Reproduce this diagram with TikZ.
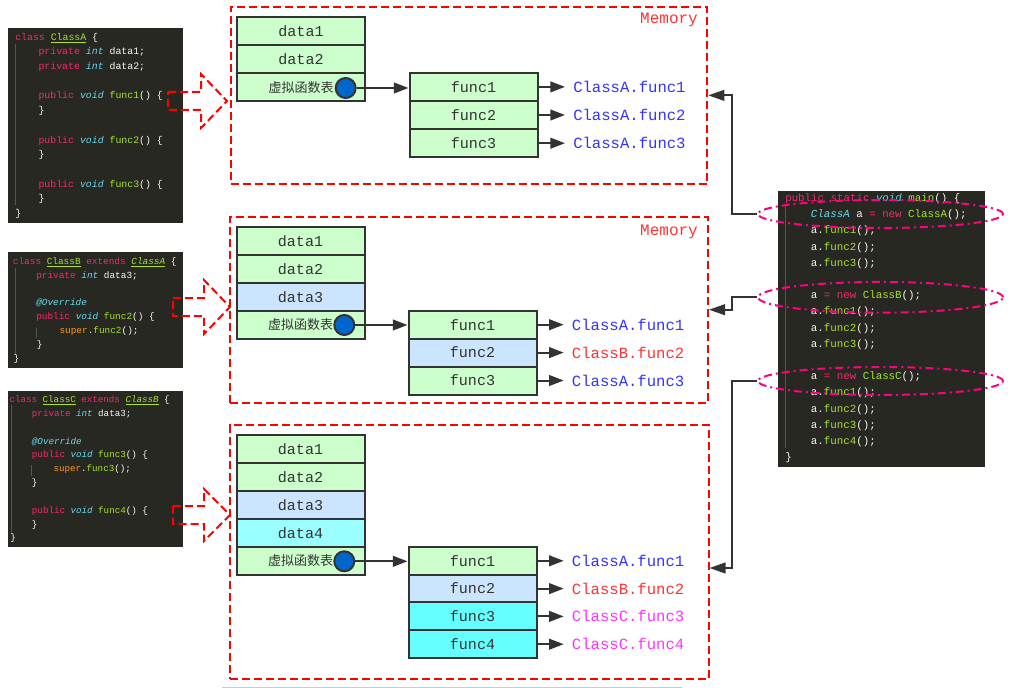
\documentclass[tikz,border=0pt]{standalone}
\usepackage{fontspec}
\setmainfont{Liberation Sans}
\newfontfamily\codefont{Liberation Mono}
\newfontfamily\cjkfont{Noto Sans CJK SC}
\usetikzlibrary{shapes.geometric,arrows.meta}
\definecolor{cgreen}{HTML}{CCFFCC}
\definecolor{cblue}{HTML}{CCE5FF}
\definecolor{ccyanA}{HTML}{99FFFF}
\definecolor{ccyanB}{HTML}{66FFFF}
\definecolor{cborder}{HTML}{333333}
\definecolor{cdot}{HTML}{0066CC}
\definecolor{cred}{HTML}{FF0000}
\definecolor{lblblue}{HTML}{3333FF}
\definecolor{lblred}{HTML}{FF3333}
\definecolor{lblmag}{HTML}{FF33FF}
\definecolor{cpink}{HTML}{FF0080}
\definecolor{mkbg}{HTML}{272822}
\definecolor{mkfg}{HTML}{F8F8F2}
\definecolor{mkpink}{HTML}{F92672}
\definecolor{mkcyan}{HTML}{66D9EF}
\definecolor{mkgreen}{HTML}{A6E22E}
\definecolor{mkorange}{HTML}{FD971F}
\definecolor{mkguide}{HTML}{55564F}
\newcommand{\jkw}[1]{\textcolor{mkpink}{#1}}
\newcommand{\jty}[1]{\textcolor{mkcyan}{\itshape #1}}
\newcommand{\jfn}[1]{\textcolor{mkgreen}{#1}}
\newcommand{\jsu}[1]{\textcolor{mkorange}{#1}}
\newcommand{\jcl}[1]{\textcolor{mkgreen}{\underline{#1}}}
\newcommand{\jcli}[1]{\textcolor{mkgreen}{\underline{\itshape #1}}}
\tikzset{
  cell/.style={draw=cborder, line width=1.5pt, minimum width=96pt, minimum height=21pt,
    inner sep=0pt, text=cborder, font=\codefont\fontsize{11.3}{13}\selectfont},
  gcell/.style={cell, fill=cgreen},
  bcell/.style={cell, fill=cblue},
  dcell/.style={cell, fill=ccyanA},
  ccell/.style={cell, fill=ccyanB},
  vt/.style={font=\cjkfont\fontsize{9.75}{11}\selectfont},
  vdot/.style={circle, draw=cborder, line width=1.5pt, fill=cdot, minimum size=15pt, inner sep=0pt},
  lbl/.style={anchor=west, inner sep=0pt, font=\codefont\fontsize{11.7}{13}\selectfont},
  arr/.style={draw=cborder, line width=1.5pt, -{Triangle[length=11pt, width=8pt]}},
  farr/.style={arr, shorten >=6pt},
  mem/.style={draw=cred, line width=1.5pt, dash pattern=on 6pt off 3pt, inner sep=0pt},
  memlbl/.style={text=lblred, inner sep=0pt, font=\codefont\fontsize{12}{14}\selectfont},
  blk/.style={draw=cred, line width=1.5pt, dash pattern=on 6pt off 3pt},
  panel/.style={fill=mkbg, draw=none, inner sep=0pt},
  guide/.style={draw=mkguide, line width=0.75pt},
  cA/.style={anchor=base west, inner sep=0pt, text=mkfg, font=\codefont\fontsize{7.4}{9}\selectfont},
  cB/.style={cA, font=\codefont\fontsize{7.05}{9}\selectfont},
  cC/.style={cA, font=\codefont\fontsize{6.9}{9}\selectfont},
  cM/.style={cA, font=\codefont\fontsize{8.1}{10}\selectfont},
  oval/.style={ellipse, draw=cpink, line width=1.5pt, dash pattern=on 6pt off 3pt on 1.5pt off 3pt, inner sep=0pt},
  marr/.style={draw=cborder, line width=1.5pt, -{Triangle[length=12pt, width=8pt]}}
}
\begin{document}
\begin{tikzpicture}[x=0.75pt, y=-0.75pt]
\useasboundingbox (0,0) rectangle (1017,688);
\fill[white] (0,0) rectangle (1017,688);

% ---------- code panels ----------
\node[panel, minimum width=131.4pt, minimum height=146.6pt] (pA) at (95.1,125.25) {};
\node[panel, minimum width=130.8pt, minimum height=86.55pt] (pB) at (95.5,310) {};
\node[panel, minimum width=130.8pt, minimum height=117.2pt] (pC) at (95.5,469.15) {};
\node[panel, minimum width=155pt, minimum height=206.8pt] (pM) at (881.65,328.85) {};

\draw[guide] (15,44) -- (15,205);
\draw[guide] (15,268) -- (15,355);
\draw[guide] (36.7,328) -- (36.7,338);
\draw[guide] (11.5,405) -- (11.5,533);
\draw[guide] (31.7,465) -- (31.7,476);
\draw[guide] (785,205) -- (785,448);

% panel A
\node[cA] (a0) at (15,40.2) {\jkw{class} \jcl{ClassA} \{};
\node[cA] (a1) at (38.3,54.9) {\jkw{private} \jty{int} data1;};
\node[cA] (a2) at (38.3,69.6) {\jkw{private} \jty{int} data2;};
\node[cA] (a3) at (38.3,99) {\jkw{public} \jty{void} \jfn{func1}() \{};
\node[cA] (a4) at (38.3,113.7) {\}};
\node[cA] (a5) at (38.3,143.1) {\jkw{public} \jty{void} \jfn{func2}() \{};
\node[cA] (a6) at (38.3,157.8) {\}};
\node[cA] (a7) at (38.3,187.2) {\jkw{public} \jty{void} \jfn{func3}() \{};
\node[cA] (a8) at (38.3,201.9) {\}};
\node[cA] (a9) at (15,216.6) {\}};

% panel B
\node[cB] (b0) at (12.7,264) {\jkw{class} \jcl{ClassB} \jkw{extends} \jcli{ClassA} \{};
\node[cB] (b1) at (36,278) {\jkw{private} \jty{int} data3;};
\node[cB] (b2) at (36,305.9) {\jty{@Override}};
\node[cB] (b3) at (36,319.8) {\jkw{public} \jty{void} \jfn{func2}() \{};
\node[cB] (b4) at (59.3,333.8) {\jsu{super}.\jfn{func2}();};
\node[cB] (b5) at (36.7,347.7) {\}};
\node[cB] (b6) at (13.3,361.7) {\}};

% panel C
\node[cC] (c0) at (9.3,402.5) {\jkw{class} \jcl{ClassC} \jkw{extends} \jcli{ClassB} \{};
\node[cC] (c1) at (31.7,416.3) {\jkw{private} \jty{int} data3;};
\node[cC] (c2) at (31.7,444) {\jty{@Override}};
\node[cC] (c3) at (31.7,457.9) {\jkw{public} \jty{void} \jfn{func3}() \{};
\node[cC] (c4) at (53.3,471.7) {\jsu{super}.\jfn{func3}();};
\node[cC] (c5) at (31.7,485.5) {\}};
\node[cC] (c6) at (31.7,513.2) {\jkw{public} \jty{void} \jfn{func4}() \{};
\node[cC] (c7) at (31.7,527.1) {\}};
\node[cC] (c8) at (10,540.9) {\}};

% main panel
\node[cM] (m0) at (785,201.5) {\jkw{public} \jkw{static} \jty{void} \jfn{main}() \{};
\node[cM] (m1) at (810.7,217.7) {\jty{ClassA} a \jkw{=} \jkw{new} \jfn{ClassA}();};
\node[cM] (m2) at (810.7,233.9) {a.\jfn{func1}();};
\node[cM] (m3) at (810.7,250.1) {a.\jfn{func2}();};
\node[cM] (m4) at (810.7,266.3) {a.\jfn{func3}();};
\node[cM] (m5) at (810.7,298.6) {a \jkw{=} \jkw{new} \jfn{ClassB}();};
\node[cM] (m6) at (810.7,314.8) {a.\jfn{func1}();};
\node[cM] (m7) at (810.7,331) {a.\jfn{func2}();};
\node[cM] (m8) at (810.7,347.2) {a.\jfn{func3}();};
\node[cM] (m9) at (810.7,379.6) {a \jkw{=} \jkw{new} \jfn{ClassC}();};
\node[cM] (m10) at (810.7,395.8) {a.\jfn{func1}();};
\node[cM] (m11) at (810.7,412) {a.\jfn{func2}();};
\node[cM] (m12) at (810.7,428.2) {a.\jfn{func3}();};
\node[cM] (m13) at (810.7,444.4) {a.\jfn{func4}();};
\node[cM] (m14) at (785,460.5) {\}};

% ---------- memory boxes ----------
\node[mem, minimum width=357.45pt, minimum height=133pt] (mem1) at (469,95.35) {};
\node[mem, minimum width=358.5pt, minimum height=139.5pt] (mem2) at (469,309.7) {};
\node[mem, minimum width=359.25pt, minimum height=190.7pt] (mem3) at (469.5,552.2) {};
\node[memlbl] (mt1) at (669,20) {Memory};
\node[memlbl] (mt2) at (669,231.7) {Memory};

% box 1
\node[gcell] (p1d1) at (301,30.9) {data1};
\node[gcell] (p1d2) at (301,59.2) {data2};
\node[gcell, vt] (p1vt) at (301,87.5) {虚拟函数表};
\node[vdot] (p1dot) at (345.7,88) {};
\node[gcell] (p1f1) at (473.5,86.9) {func1};
\node[gcell] (p1f2) at (473.5,115) {func2};
\node[gcell] (p1f3) at (473.5,143.2) {func3};
\node[lbl, text=lblblue] (p1l1) at (573,86.9) {ClassA.func1};
\node[lbl, text=lblblue] (p1l2) at (573,115) {ClassA.func2};
\node[lbl, text=lblblue] (p1l3) at (573,143.2) {ClassA.func3};
\draw[arr] (p1dot.east) -- (p1dot.east -| p1f1.west);
\draw[farr] (p1f1.east) -- (p1l1.west);
\draw[farr] (p1f2.east) -- (p1l2.west);
\draw[farr] (p1f3.east) -- (p1l3.west);

% box 2
\node[gcell] (p2d1) at (300.5,240.9) {data1};
\node[gcell] (p2d2) at (300.5,268.8) {data2};
\node[bcell] (p2d3) at (300.5,296.7) {data3};
\node[gcell, vt] (p2vt) at (300.5,324.6) {虚拟函数表};
\node[vdot] (p2dot) at (344.3,325) {};
\node[gcell] (p2f1) at (472.5,324.7) {func1};
\node[bcell] (p2f2) at (472.5,352.6) {func2};
\node[gcell] (p2f3) at (472.5,380.5) {func3};
\node[lbl, text=lblblue] (p2l1) at (571.7,324.7) {ClassA.func1};
\node[lbl, text=lblred] (p2l2) at (571.7,352.6) {ClassB.func2};
\node[lbl, text=lblblue] (p2l3) at (571.7,380.5) {ClassA.func3};
\draw[arr] (p2dot.east) -- (p2dot.east -| p2f1.west);
\draw[farr] (p2f1.east) -- (p2l1.west);
\draw[farr] (p2f2.east) -- (p2l2.west);
\draw[farr] (p2f3.east) -- (p2l3.west);

% box 3
\node[gcell] (p3d1) at (300.5,448.9) {data1};
\node[gcell] (p3d2) at (300.5,476.8) {data2};
\node[bcell] (p3d3) at (300.5,504.8) {data3};
\node[dcell] (p3d4) at (300.5,532.8) {data4};
\node[gcell, vt] (p3vt) at (300.5,560.8) {虚拟函数表};
\node[vdot] (p3dot) at (344.3,561.3) {};
\node[gcell] (p3f1) at (472.5,560.8) {func1};
\node[bcell] (p3f2) at (472.5,588.6) {func2};
\node[ccell] (p3f3) at (472.5,616.4) {func3};
\node[ccell] (p3f4) at (472.5,644.2) {func4};
\node[lbl, text=lblblue] (p3l1) at (571.7,560.8) {ClassA.func1};
\node[lbl, text=lblred] (p3l2) at (571.7,588.6) {ClassB.func2};
\node[lbl, text=lblmag] (p3l3) at (571.7,616.4) {ClassC.func3};
\node[lbl, text=lblmag] (p3l4) at (571.7,644.2) {ClassC.func4};
\draw[arr] (p3dot.east) -- (p3dot.east -| p3f1.west);
\draw[farr] (p3f1.east) -- (p3l1.west);
\draw[farr] (p3f2.east) -- (p3l2.west);
\draw[farr] (p3f3.east) -- (p3l3.west);
\draw[farr] (p3f4.east) -- (p3l4.west);

% ---------- block arrows ----------
\draw[blk] (168,92) -- (201,92) -- (201,74) -- (227,101) -- (201,128) -- (201,110) -- (168,110) -- cycle;
\draw[blk] (173,298) -- (204,298) -- (204,280) -- (230,307) -- (204,334) -- (204,316) -- (173,316) -- cycle;
\draw[blk] (173,506) -- (204,506) -- (204,489) -- (230,515) -- (204,541) -- (204,524) -- (173,524) -- cycle;

% ---------- ovals and main arrows ----------
\node[oval, minimum width=183.75pt, minimum height=21pt] (e1) at (880.5,214) {};
\node[oval, minimum width=183.75pt, minimum height=23pt] (e2) at (880.5,297.3) {};
\node[oval, minimum width=183.75pt, minimum height=21pt] (e3) at (880.5,381) {};
\coordinate (t3) at (709.5,568);
\draw[marr] (e1.west) -- ++(-25,0) |- (mem1.east);
\draw[marr] (e2.west) -- ++(-25,0) |- (mem2.east);
\draw[marr] (e3.west) -- ++(-25,0) |- (t3);

\draw[black!20, line width=0.75pt] (222,687) -- (682,687);
\end{tikzpicture}
\end{document}
